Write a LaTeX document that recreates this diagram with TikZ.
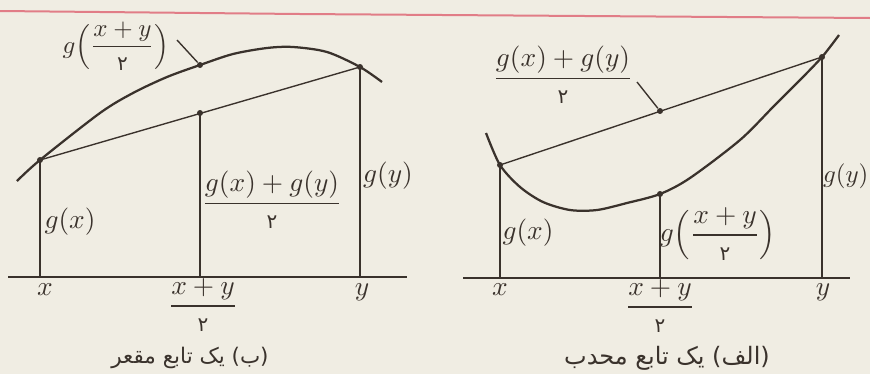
\documentclass[tikz,border=0pt]{standalone}
\usepackage{amsmath}
\usepackage{fontspec}
\usepackage{tikz}
\usetikzlibrary{positioning}
\usepackage{xcolor}
\TeXXeTstate=1
\newfontfamily\arabicfont[Script=Arabic]{DejaVu Sans}
\definecolor{paper}{RGB}{240,237,227}
\definecolor{ink}{RGB}{58,50,44}
\definecolor{redrule}{RGB}{225,125,135}
\newcommand{\fatwo}{\mbox{\arabicfont\fontsize{8}{9}\selectfont ۲}}

\begin{document}
\begin{tikzpicture}[
    x=0.4pt, y=-0.4pt,
    line/.style={draw=ink, line width=0.55pt},
    curve/.style={draw=ink, line width=0.9pt},
    dot/.style={circle, fill=ink, inner sep=0pt, minimum size=2.4pt},
    lbl/.style={text=ink, font=\fontsize{11}{13}\selectfont, inner sep=1pt},
    caption/.style={text=ink, font=\arabicfont\fontsize{9}{11}\selectfont}
]

% Page and margin rule
\fill[paper] (0,0) rectangle (870,374);
\useasboundingbox (0,0) rectangle (870,374);
\draw[redrule, line width=0.8pt] (0,11) -- (300,14) -- (870,18);

% ---- (b) concave function ----
\coordinate (axbL) at (8,277);
\coordinate (axbR) at (407,277);
\coordinate (fxb) at (40,277);
\coordinate (fmb) at (200,277);
\coordinate (fyb) at (360,277);
\node[dot] (pxb) at (40,160) {};
\node[dot] (pcb) at (200,113) {};
\node[dot] (pmb) at (200,65) {};
\node[dot] (pyb) at (360,67) {};

\draw[line] (axbL) -- (axbR);
\draw[curve] plot[smooth, tension=0.5] coordinates
    {(17,181) (40,160) (100,113) (133,93) (167,77) (200,65)
     (233,54) (267,48) (293,47) (327,52) (360,67) (382,82)};
\draw[line] (pxb.center) -- (pyb.center);
\draw[line] (pxb.center) -- (fxb);
\draw[line] (pcb.center) -- (fmb);
\draw[line] (pyb.center) -- (fyb);

\node[lbl, font=\fontsize{10.3}{12}\selectfont] (gmb) at (116,46)
    {$g\Bigl(\dfrac{x+y}{\fatwo}\Bigr)$};
\coordinate (tagb) at (177,40);
\draw[line] (tagb) -- (pmb);
\node[lbl] (gxb) at (70,222) {$g(x)$};
\node[lbl] (gcb) at (272,200) {$\dfrac{g(x)+g(y)}{\fatwo}$};
\node[lbl] (gyb) at (388,176) {$g(y)$};
\node[lbl] (xb) at (45,290) {$x$};
\node[lbl] (mb) at (203,305) {$\dfrac{x+y}{\fatwo}$};
\node[lbl] (yb) at (362,292) {$y$};
\node[caption, font=\arabicfont\fontsize{8.6}{10}\selectfont] (capb) at (190,358)
    {\beginR(ب) یک تابع مقعر\endR};

% ---- (a) convex function ----
\coordinate (axaL) at (463,278);
\coordinate (axaR) at (850,278);
\coordinate (fxa) at (500,278);
\coordinate (fma) at (660,278);
\coordinate (fya) at (822,278);
\node[dot] (pxa) at (500,165) {};
\node[dot] (pca) at (660,111) {};
\node[dot] (pma) at (660,194) {};
\node[dot] (pya) at (822,57) {};

\draw[line] (axaL) -- (axaR);
\draw[curve] plot[smooth, tension=0.5] coordinates
    {(486,133) (500,165) (520,187) (543,202) (570,210) (597,210) (627,203)
     (660,194) (690,178) (740,140) (773,107) (800,80) (822,57) (839,35)};
\draw[line] (pxa.center) -- (pya.center);
\draw[line] (pxa.center) -- (fxa);
\draw[line] (pma.center) -- (fma);
\draw[line] (pya.center) -- (fya);

\node[lbl] (gca) at (563,75) {$\dfrac{g(x)+g(y)}{\fatwo}$};
\coordinate (taga) at (637,82);
\draw[line] (taga) -- (pca);
\node[lbl] (gxa) at (528,233) {$g(x)$};
\node[lbl] (gma) at (718,234) {$g\Bigl(\dfrac{x+y}{\fatwo}\Bigr)$};
\node[lbl, anchor=west, inner sep=0pt, font=\fontsize{10.4}{12}\selectfont] (gya)
    at (822.5,176) {$g(y)$};
\node[lbl] (xa) at (500,290) {$x$};
\node[lbl] (ma) at (660,306) {$\dfrac{x+y}{\fatwo}$};
\node[lbl] (ya) at (823,292) {$y$};
\node[caption, font=\arabicfont\fontsize{9.6}{11}\selectfont] (capa) at (667,358)
    {\beginR(الف) یک تابع محدب\endR};

\end{tikzpicture}
\end{document}
